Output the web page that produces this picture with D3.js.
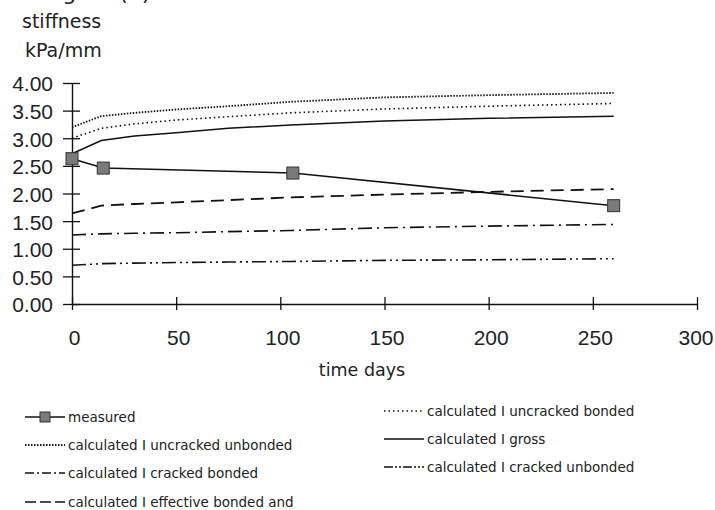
<!DOCTYPE html>
<html>
<head>
<meta charset="utf-8">
<script src="https://cdn.jsdelivr.net/npm/d3@7"></script>
<style>
  body { margin: 0; background: #fff; }
  .label { font-family: "DejaVu Sans", sans-serif; fill: #222; }
</style>
</head>
<body>
<div id="chart"></div>
<script>
// chart data
var calcDays = [0, 14, 30, 50, 75, 105, 150, 200, 260];
var measuredDays = [0, 15, 106, 260];
var measured = [2.63, 2.46, 2.37, 1.78];
var uncrackedUnbonded = [3.20, 3.40, 3.46, 3.52, 3.58, 3.66, 3.74, 3.78, 3.82];
var uncrackedBonded = [3.00, 3.18, 3.26, 3.33, 3.39, 3.46, 3.53, 3.58, 3.63];
var gross = [2.72, 2.96, 3.04, 3.10, 3.18, 3.24, 3.31, 3.36, 3.40];
var effectiveBonded = [1.64, 1.78, 1.81, 1.84, 1.88, 1.93, 1.98, 2.03, 2.08];
var crackedBonded = [1.25, 1.27, 1.28, 1.29, 1.31, 1.33, 1.38, 1.41, 1.44];
var crackedUnbonded = [0.70, 0.73, 0.74, 0.75, 0.76, 0.77, 0.79, 0.80, 0.82];
var xTicks = [0, 50, 100, 150, 200, 250, 300];
var yTicks = [0, 0.5, 1, 1.5, 2, 2.5, 3, 3.5, 4];

var width = 715;
var height = 510;

var svg = d3
  .select("#chart")
  .append("svg")
  .attr("width", width)
  .attr("height", height);

var xScale = d3.scaleLinear().domain([0, 300]).range([72, 697]);
var yScale = d3.scaleLinear().domain([0, 4]).range([304, 83]);

// line styles for each calculated series
var series = [
  { name: "calculated I uncracked unbonded", values: uncrackedUnbonded, dash: "1.5,1.5", w: 1.8 },
  { name: "calculated I uncracked bonded", values: uncrackedBonded, dash: "1.5,3", w: 1.6 },
  { name: "calculated I gross", values: gross, dash: null, w: 1.5 },
  { name: "calculated I effective bonded and", values: effectiveBonded, dash: "13,7", w: 1.8 },
  { name: "calculated I cracked bonded", values: crackedBonded, dash: "14,5,2,5", w: 1.6 },
  { name: "calculated I cracked unbonded", values: crackedUnbonded, dash: "14,4,2,4,2,4", w: 1.6 }
];

// partial caption cut at the top of the scan
svg.append("text")
  .attr("class", "label")
  .attr("x", 45)
  .attr("y", 0)
  .attr("font-size", 22)
  .text("Figure (4)");

// y axis title
svg.append("text").attr("class", "label").attr("x", 22).attr("y", 28).attr("font-size", 19).text("stiffness");
svg.append("text").attr("class", "label").attr("x", 25).attr("y", 57).attr("font-size", 19).text("kPa/mm");

// axes
var yAxis = svg.append("g")
  .attr("transform", "translate(72,0)")
  .call(d3.axisLeft(yScale).tickValues(yTicks).tickSizeOuter(0).tickFormat(d3.format(".2f")));

var xAxis = svg.append("g")
  .attr("transform", "translate(0,304)")
  .call(d3.axisBottom(xScale).tickValues(xTicks).tickSizeOuter(0));

[yAxis, xAxis].forEach(function(ax) {
  ax.attr("font-family", "'Liberation Sans', Arial, sans-serif").attr("font-size", 21);
  ax.select(".domain").attr("stroke", "#111").attr("stroke-width", 1.4);
  ax.selectAll(".tick line").attr("stroke", "#111").attr("stroke-width", 1.3);
  ax.selectAll(".tick text")
    .attr("fill", "#222")
    .style("font-family", "'Liberation Sans', Arial, sans-serif")
    .style("font-size", "21px");
});

// ticks cross the axis lines
yAxis.selectAll(".tick line").attr("x1", -9).attr("x2", 8);
yAxis.selectAll(".tick text").attr("x", -19).attr("dy", "0.38em");
xAxis.selectAll(".tick line").attr("y1", -7).attr("y2", 6);
xAxis.selectAll(".tick text").attr("x", 2).attr("y", 26).attr("dy", "0.71em");

// last label sits against the right edge
xAxis.selectAll(".tick text")
  .filter(function(d) { return d === 300; })
  .attr("text-anchor", "end")
  .attr("x", 16);

// x axis title
svg.append("text")
  .attr("class", "label")
  .attr("x", 362)
  .attr("y", 376)
  .attr("text-anchor", "middle")
  .attr("font-size", 17.5)
  .text("time days");

// calculated lines
var line = d3.line()
  .x(function(d) { return xScale(d[0]); })
  .y(function(d) { return yScale(d[1]); });

series.forEach(function(s) {
  svg.append("path")
    .datum(calcDays.map(function(d, i) { return [d, s.values[i]]; }))
    .attr("d", line)
    .attr("fill", "none")
    .attr("stroke", "#111")
    .attr("stroke-width", s.w)
    .attr("stroke-dasharray", s.dash);
});

// measured line with square markers
var measuredPts = measuredDays.map(function(d, i) { return [d, measured[i]]; });
svg.append("path")
  .datum(measuredPts)
  .attr("d", line)
  .attr("fill", "none")
  .attr("stroke", "#111")
  .attr("stroke-width", 1.5);

svg.selectAll(".mark")
  .data(measuredPts)
  .enter()
  .append("rect")
  .attr("x", function(d) { return xScale(d[0]) - 6; })
  .attr("y", function(d) { return yScale(d[1]) - 6; })
  .attr("width", 12)
  .attr("height", 12)
  .attr("fill", "#7a7a7a")
  .attr("stroke", "#333")
  .attr("stroke-width", 1);

// legend
var legendItems = [
  { name: "measured", dash: null, w: 1.3, marker: true, x: 25, tx: 68, y: 422 },
  { name: series[0].name, dash: series[0].dash, w: 1.8, x: 25, tx: 68, y: 450 },
  { name: series[4].name, dash: "9,3,2,3", w: 1.5, x: 25, tx: 68, y: 478 },
  { name: series[3].name, dash: "11,4", w: 1.5, x: 25, tx: 68, y: 507 },
  { name: series[1].name, dash: series[1].dash, w: 1.6, x: 384, tx: 427, y: 416 },
  { name: series[2].name, dash: null, w: 1.4, x: 384, tx: 427, y: 444 },
  { name: series[5].name, dash: "9,2,2,2,2,2", w: 1.5, x: 384, tx: 427, y: 472 }
];

var legend = svg.append("g");
legendItems.forEach(function(d) {
  legend.append("line")
    .attr("x1", d.x)
    .attr("x2", d.tx - 3)
    .attr("y1", d.y - 5)
    .attr("y2", d.y - 5)
    .attr("stroke", "#111")
    .attr("stroke-width", d.w)
    .attr("stroke-dasharray", d.dash);
  if (d.marker) {
    legend.append("rect")
      .attr("x", (d.x + d.tx - 3) / 2 - 5)
      .attr("y", d.y - 10)
      .attr("width", 10)
      .attr("height", 10)
      .attr("fill", "#7a7a7a")
      .attr("stroke", "#333");
  }
  legend.append("text")
    .attr("class", "label")
    .attr("x", d.tx)
    .attr("y", d.y)
    .attr("font-size", 13.5)
    .text(d.name);
});
</script>
</body>
</html>
